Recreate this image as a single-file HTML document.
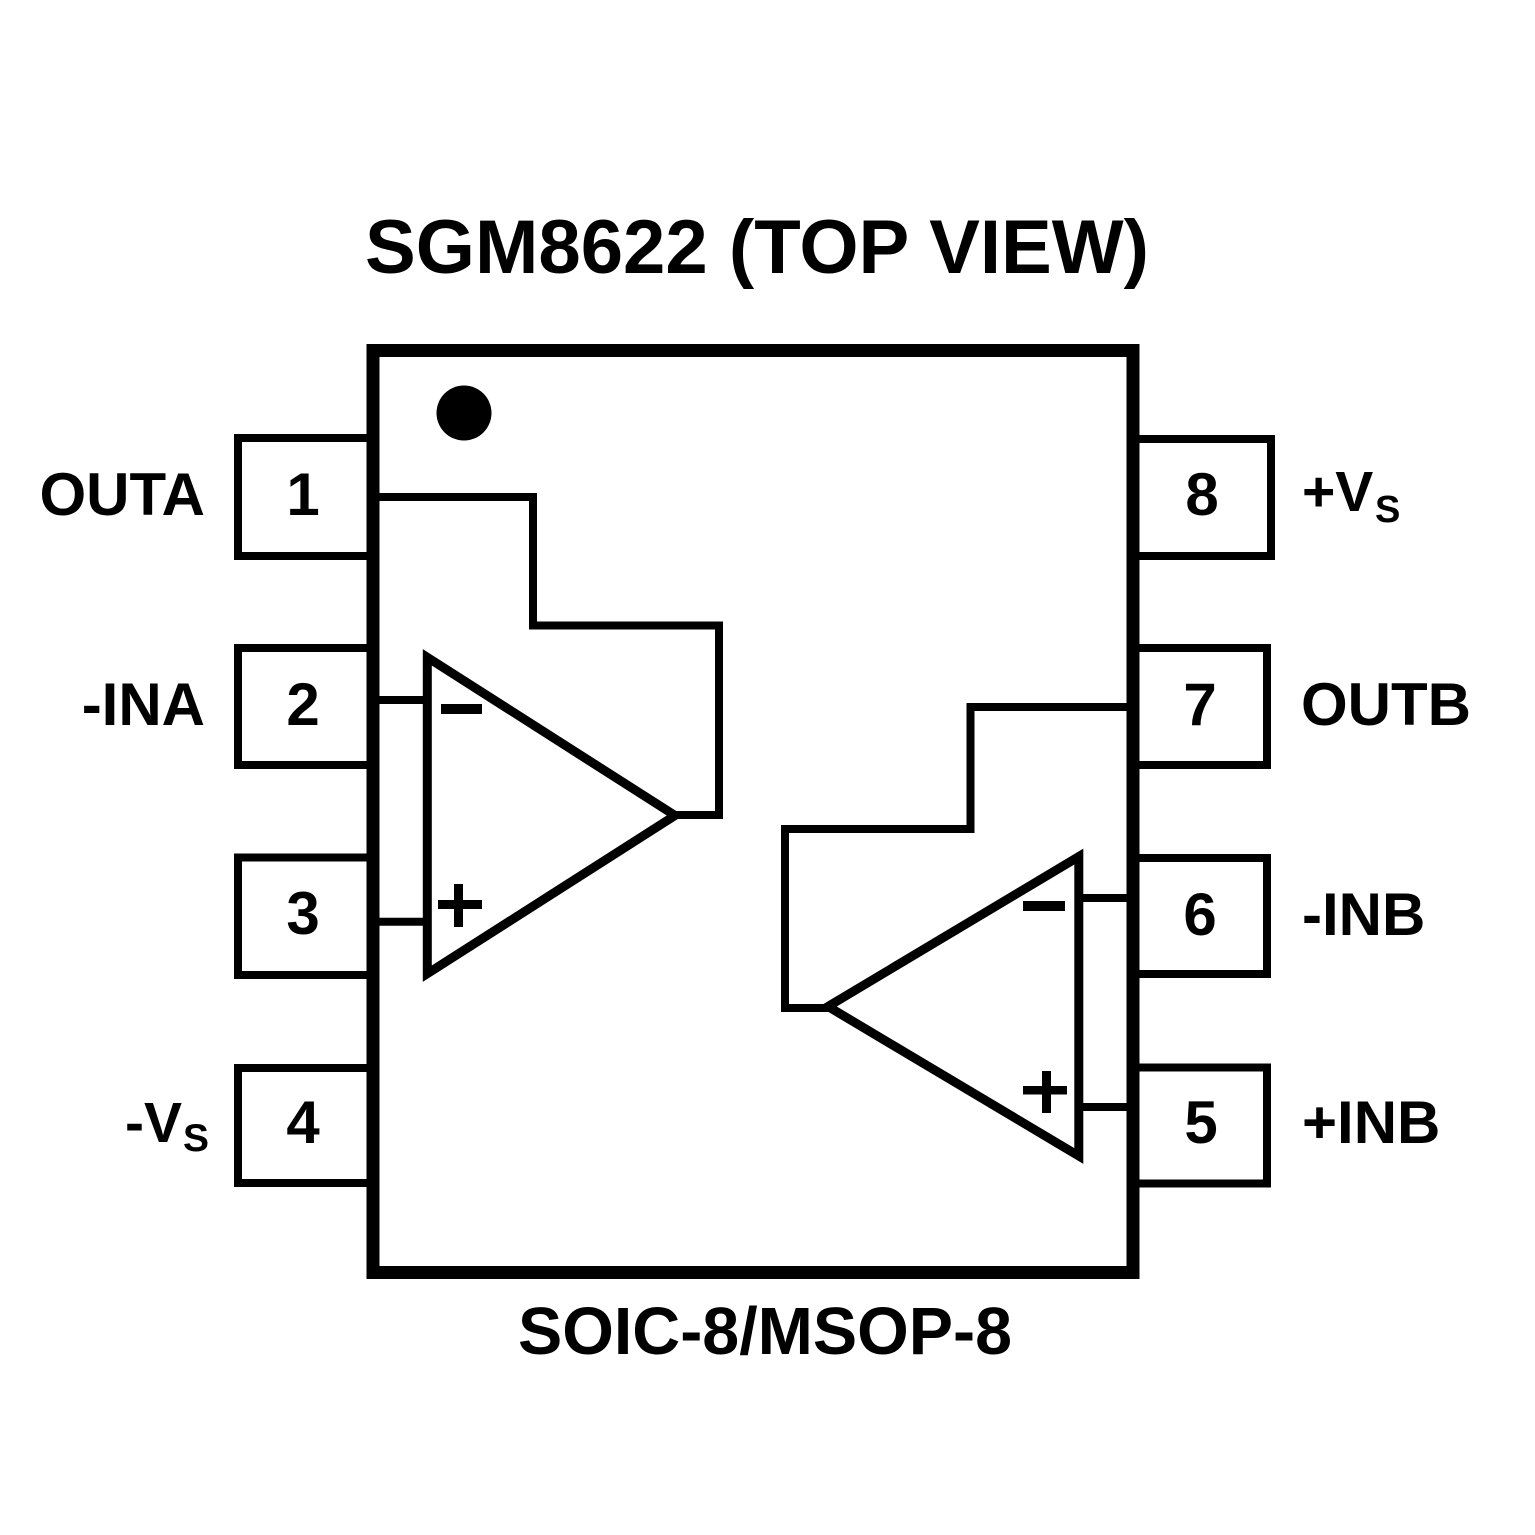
<!DOCTYPE html>
<html>
<head>
<meta charset="utf-8">
<style>
  html, body { margin: 0; padding: 0; background: #ffffff; }
  svg { display: block; }
  text { font-family: "Liberation Sans", Arial, sans-serif; font-weight: bold; fill: #000; }
</style>
</head>
<body>
<svg xmlns="http://www.w3.org/2000/svg" width="1535" height="1535" viewBox="0 0 1535 1535">
  <rect x="0" y="0" width="1535" height="1535" fill="#fff"/>

  <!-- Title -->
  <text x="757" y="273" font-size="76" text-anchor="middle" textLength="784" lengthAdjust="spacingAndGlyphs">SGM8622 (TOP VIEW)</text>

  <!-- Left pin boxes -->
  <g fill="#fff" stroke="#000" stroke-width="8">
    <rect x="238" y="438" width="135" height="118"/>
    <rect x="238" y="648" width="135" height="117"/>
    <rect x="238" y="857.5" width="135" height="117.5"/>
    <rect x="238" y="1068" width="135" height="115"/>
  </g>
  <!-- Right pin boxes -->
  <g fill="#fff" stroke="#000" stroke-width="8">
    <rect x="1133" y="439" width="138" height="117"/>
    <rect x="1133" y="648" width="134" height="117"/>
    <rect x="1133" y="858" width="134" height="116"/>
    <rect x="1133" y="1067.5" width="134" height="116"/>
  </g>

  <!-- Package body -->
  <rect x="373" y="350.5" width="760" height="922" fill="#fff" stroke="#000" stroke-width="13"/>

  <!-- Pin 1 dot -->
  <circle cx="464" cy="413" r="27.5" fill="#000"/>

  <!-- Op-amp A wiring -->
  <g fill="none" stroke="#000" stroke-width="8" stroke-linejoin="miter" stroke-linecap="butt">
    <polyline points="379,497 533,497 533,625.5 719,625.5 719,815 674,815"/>
    <line x1="379" y1="700" x2="427" y2="700"/>
    <line x1="379" y1="921.7" x2="427" y2="921.7"/>
  </g>
  <polygon points="427.3,657.3 427.3,973.7 675,815.5" fill="none" stroke="#000" stroke-width="9" stroke-linejoin="miter" stroke-miterlimit="10"/>
  <!-- A signs -->
  <rect x="441" y="704" width="41" height="10" fill="#000"/>
  <rect x="438" y="900" width="44" height="9" fill="#000"/>
  <rect x="454" y="884" width="9" height="43" fill="#000"/>

  <!-- Op-amp B wiring -->
  <g fill="none" stroke="#000" stroke-width="8" stroke-linejoin="miter" stroke-linecap="butt">
    <polyline points="1127,707 970.5,707 970.5,829 785,829 785,1008 829,1008"/>
    <line x1="1079" y1="898" x2="1127" y2="898"/>
    <line x1="1079" y1="1107" x2="1127" y2="1107"/>
  </g>
  <polygon points="1078.8,856.6 1078.8,1156 828,1006.5" fill="none" stroke="#000" stroke-width="9" stroke-linejoin="miter" stroke-miterlimit="10"/>
  <!-- B signs -->
  <rect x="1023" y="901" width="42" height="10" fill="#000"/>
  <rect x="1023" y="1086" width="44" height="8.5" fill="#000"/>
  <rect x="1042" y="1071" width="9" height="42" fill="#000"/>

  <!-- Pin numbers -->
  <g font-size="60" text-anchor="middle">
    <text x="303" y="515">1</text>
    <text x="303" y="725">2</text>
    <text x="303" y="934">3</text>
    <text x="303" y="1143">4</text>
    <text x="1202" y="515">8</text>
    <text x="1200" y="725">7</text>
    <text x="1200" y="935">6</text>
    <text x="1201" y="1143">5</text>
  </g>

  <!-- Left labels -->
  <g font-size="60" text-anchor="end">
    <text x="205" y="515">OUTA</text>
    <text x="205" y="725">-INA</text>
  </g>
  <text x="182" y="1142" font-size="57" text-anchor="end">-V</text>
  <text x="183" y="1151" font-size="39">S</text>

  <!-- Right labels -->
  <g font-size="60">
    <text x="1301" y="725">OUTB</text>
    <text x="1302" y="935">-INB</text>
    <text x="1302" y="1143">+INB</text>
  </g>
  <text x="1302" y="511" font-size="57">+V</text>
  <text x="1375" y="522" font-size="38">S</text>

  <!-- Bottom caption -->
  <text x="765" y="1354" font-size="67" text-anchor="middle" textLength="494" lengthAdjust="spacingAndGlyphs">SOIC-8/MSOP-8</text>
</svg>
</body>
</html>
